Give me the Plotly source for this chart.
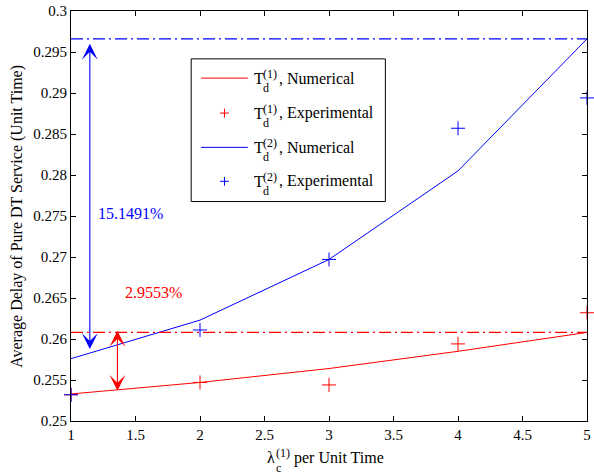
import plotly.graph_objects as go

# ---------------- data ----------------
x_vals = [1, 2, 3, 4, 5]
red_numerical = [0.2533, 0.2547, 0.2564, 0.2585, 0.2608]
red_experimental = [0.2532, 0.2547, 0.2544, 0.2594, 0.2632]
blue_numerical = [0.2576, 0.2623, 0.2697, 0.2805, 0.2966]
blue_experimental = [0.2532, 0.2611, 0.2697, 0.2857, 0.2894]

x_ticks = [1, 1.5, 2, 2.5, 3, 3.5, 4, 4.5, 5]
x_tick_labels = ["1", "1.5", "2", "2.5", "3", "3.5", "4", "4.5", "5"]
y_ticks = [0.25, 0.255, 0.26, 0.265, 0.27, 0.275, 0.28, 0.285, 0.29, 0.295, 0.3]
y_tick_labels = ["0.25", "0.255", "0.26", "0.265", "0.27", "0.275", "0.28",
                 "0.285", "0.29", "0.295", "0.3"]

legend_main = ["T", "T", "T", "T"]
legend_sup = ["(1)", "(1)", "(2)", "(2)"]
legend_sub = ["d", "d", "d", "d"]
legend_rest = [", Numerical", ", Experimental", ", Numerical", ", Experimental"]

pct_blue = "15.1491%"
pct_red = "2.9553%"
y_title = "Average Delay of Pure DT Service (Unit Time)"

RED = "#ff0000"
BLUE = "#0000ff"
FONT = "Liberation Serif"

# ---------------- layout geometry (pixels) ----------------
W, H = 594, 474
L, R, T, B = 71, 590.5, 10, 421


def px(x):
    return (x - L) / (R - L)


def py(y):
    return (B - y) / (B - T)


fig = go.Figure()

fig.add_trace(go.Scatter(x=x_vals, y=red_numerical, mode="lines",
                         line=dict(color=RED, width=1), showlegend=False))
fig.add_trace(go.Scatter(x=x_vals, y=red_experimental, mode="markers",
                         marker=dict(symbol="cross-thin", size=10,
                                     line=dict(color=RED, width=1)),
                         showlegend=False, cliponaxis=False))
fig.add_trace(go.Scatter(x=x_vals, y=blue_numerical, mode="lines",
                         line=dict(color=BLUE, width=1), showlegend=False))
fig.add_trace(go.Scatter(x=x_vals, y=blue_experimental, mode="markers",
                         marker=dict(symbol="cross-thin", size=10,
                                     line=dict(color=BLUE, width=1)),
                         showlegend=False, cliponaxis=False))

# reference dash-dot lines at the maxima of the numerical curves
red_max = max(red_numerical)
blue_max = max(blue_numerical)
fig.add_trace(go.Scatter(x=[x_vals[0], x_vals[-1]], y=[red_max, red_max], mode="lines",
                         line=dict(color=RED, width=1.3, dash="12px,4px,2px,4px"),
                         showlegend=False))
fig.add_trace(go.Scatter(x=[x_vals[0], x_vals[-1]], y=[blue_max, blue_max], mode="lines",
                         line=dict(color=BLUE, width=1.3, dash="12px,4px,2px,4px"),
                         showlegend=False))

annotations = []
shapes = []


def double_arrow(xa, y0, y1, color):
    annotations.append(dict(
        x=xa, y=y1, ax=xa, ay=y0, xref="x", yref="y", axref="x", ayref="y",
        text="", showarrow=True, arrowhead=3, startarrowhead=3,
        arrowside="end+start", arrowsize=2.4, startarrowsize=2.4,
        arrowwidth=1.1, arrowcolor=color, standoff=0, startstandoff=0))


double_arrow(1.146, 0.2586, 0.2960, BLUE)
double_arrow(1.36, 0.2535, 0.2610, RED)

annotations.append(dict(x=px(96), y=py(213), xref="paper", yref="paper",
                        text=pct_blue, showarrow=False, xanchor="left", yanchor="middle",
                        font=dict(family=FONT, size=16, color=BLUE)))
annotations.append(dict(x=px(123), y=py(292), xref="paper", yref="paper",
                        text=pct_red, showarrow=False, xanchor="left", yanchor="middle",
                        font=dict(family=FONT, size=16, color=RED)))

# custom legend
shapes.append(dict(type="rect", xref="paper", yref="paper",
                   x0=px(192), x1=px(387.5), y0=py(201), y1=py(58),
                   line=dict(color="black", width=1), fillcolor="white", layer="above"))
rows = [77.3, 112.3, 146.7, 180.7]
colors = [RED, RED, BLUE, BLUE]
kinds = ["line", "marker", "line", "marker"]
for i, yr in enumerate(rows):
    c = colors[i]
    if kinds[i] == "line":
        shapes.append(dict(type="line", xref="paper", yref="paper",
                           x0=px(202), x1=px(249), y0=py(yr), y1=py(yr),
                           line=dict(color=c, width=1), layer="above"))
    else:
        cx, cy = 225.5, yr
        shapes.append(dict(type="line", xref="paper", yref="paper",
                           x0=px(cx - 4.5), x1=px(cx + 4.5), y0=py(cy), y1=py(cy),
                           line=dict(color=c, width=1), layer="above"))
        shapes.append(dict(type="line", xref="paper", yref="paper",
                           x0=px(cx), x1=px(cx), y0=py(cy - 4.5), y1=py(cy + 4.5),
                           line=dict(color=c, width=1), layer="above"))
    annotations.append(dict(x=px(253), y=py(yr), xref="paper", yref="paper",
                            text=legend_main[i], showarrow=False, xanchor="left",
                            yanchor="middle", font=dict(family=FONT, size=16, color="black")))
    annotations.append(dict(x=px(262), y=py(yr - 4), xref="paper", yref="paper",
                            text=legend_sup[i], showarrow=False, xanchor="left",
                            yanchor="middle", font=dict(family=FONT, size=12, color="black")))
    annotations.append(dict(x=px(262), y=py(yr + 10), xref="paper", yref="paper",
                            text=legend_sub[i], showarrow=False, xanchor="left",
                            yanchor="middle", font=dict(family=FONT, size=12, color="black")))
    annotations.append(dict(x=px(278), y=py(yr), xref="paper", yref="paper",
                            text=legend_rest[i], showarrow=False, xanchor="left",
                            yanchor="middle", font=dict(family=FONT, size=16, color="black")))

# x-axis title with stacked super/subscript
annotations.append(dict(x=px(266), y=py(458), xref="paper", yref="paper", text="λ",
                        showarrow=False, xanchor="left", yanchor="middle",
                        font=dict(family=FONT, size=16, color="black")))
annotations.append(dict(x=px(275), y=py(453), xref="paper", yref="paper", text="(1)",
                        showarrow=False, xanchor="left", yanchor="middle",
                        font=dict(family=FONT, size=12, color="black")))
annotations.append(dict(x=px(275), y=py(468), xref="paper", yref="paper", text="c",
                        showarrow=False, xanchor="left", yanchor="middle",
                        font=dict(family=FONT, size=12, color="black")))
annotations.append(dict(x=px(294), y=py(458), xref="paper", yref="paper",
                        text="per Unit Time", showarrow=False, xanchor="left",
                        yanchor="middle", font=dict(family=FONT, size=16, color="black")))

# y-axis title
annotations.append(dict(x=px(17), y=py(216), xref="paper", yref="paper", text=y_title,
                        textangle=-90, showarrow=False, xanchor="center", yanchor="middle",
                        font=dict(family=FONT, size=16, color="black")))

axis_common = dict(showline=True, linecolor="black", linewidth=1, mirror="ticks",
                   ticks="inside", ticklen=5, tickcolor="black", tickwidth=1,
                   showgrid=False, zeroline=False,
                   tickfont=dict(family=FONT, size=15, color="black"))

fig.update_layout(
    width=W, height=H,
    margin=dict(l=L, r=W - R, t=T, b=H - B, pad=0),
    paper_bgcolor="white", plot_bgcolor="white",
    showlegend=False,
    xaxis=dict(range=[1, 5], tickvals=x_ticks, ticktext=x_tick_labels, **axis_common),
    yaxis=dict(range=[0.25, 0.3], tickvals=y_ticks, ticktext=y_tick_labels, **axis_common),
    annotations=annotations, shapes=shapes,
)

fig.write_html("out.html", config={"displayModeBar": False},
               post_script="document.body.style.margin='0';document.body.style.padding='0';")
